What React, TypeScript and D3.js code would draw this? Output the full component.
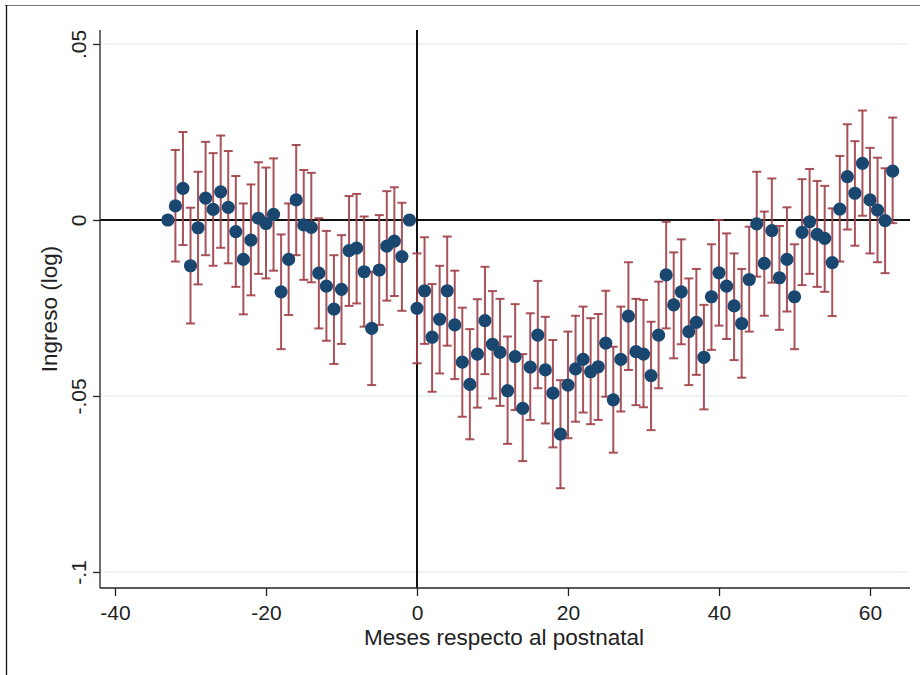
import React, { useRef, useEffect } from 'react';
import * as d3 from 'd3';

// months relative to birth
const months = [
  -33, -32, -31, -30, -29, -28, -27, -26, -25, -24, -23, -22, -21, -20, -19, -18, -17,
  -16, -15, -14, -13, -12, -11, -10, -9, -8, -7, -6, -5, -4, -3, -2, -1,
  0, 1, 2, 3, 4, 5, 6, 7, 8, 9, 10, 11, 12, 13, 14, 15, 16,
  17, 18, 19, 20, 21, 22, 23, 24, 25, 26, 27, 28, 29, 30, 31, 32,
  33, 34, 35, 36, 37, 38, 39, 40, 41, 42, 43, 44, 45, 46, 47, 48,
  49, 50, 51, 52, 53, 54, 55, 56, 57, 58, 59, 60, 61, 62, 63,
];

const coef = [
  0, 0.004, 0.009, -0.013, -0.0022, 0.0062, 0.003, 0.008, 0.0036, -0.0033, -0.0112, -0.0057, 0.0005, -0.001, 0.0016, -0.0204, -0.0112,
  0.0057, -0.0014, -0.0021, -0.0151, -0.0188, -0.0253, -0.0197, -0.0087, -0.008, -0.0147, -0.0308, -0.0142, -0.0074, -0.006, -0.0104, 0,
  -0.0251, -0.0201, -0.0333, -0.0282, -0.0201, -0.0298, -0.0404, -0.0467, -0.0381, -0.0286, -0.0353, -0.0376, -0.0485, -0.0388, -0.0535, -0.0418, -0.0327,
  -0.0426, -0.0492, -0.0608, -0.0469, -0.0423, -0.0396, -0.0431, -0.0417, -0.035, -0.0511, -0.0396, -0.0273, -0.0374, -0.0381, -0.0442, -0.0327,
  -0.0156, -0.0241, -0.0204, -0.0317, -0.0291, -0.039, -0.0218, -0.015, -0.0188, -0.0244, -0.0294, -0.0169, -0.0011, -0.0123, -0.003, -0.0164,
  -0.0112, -0.0218, -0.0035, -0.0005, -0.0041, -0.0052, -0.0121, 0.0031, 0.0123, 0.0076, 0.0161, 0.0057, 0.0028, -0.0002, 0.0139,
];

const ciHigh = [
  0, 0.0199, 0.025, 0.0035, 0.0137, 0.0222, 0.019, 0.024, 0.0196, 0.0125, 0.0047, 0.0101, 0.0164, 0.0149, 0.0175, -0.0041, 0.0047,
  0.0213, 0.0142, 0.0134, 0.0005, -0.0031, -0.01, -0.0043, 0.0068, 0.0074, 0.001, -0.0147, 0.0014, 0.0082, 0.0093, 0.0049, 0,
  -0.0095, -0.0049, -0.0182, -0.013, -0.0047, -0.0144, -0.0249, -0.031, -0.0225, -0.0133, -0.0202, -0.0224, -0.0331, -0.0239, -0.0381, -0.0265, -0.0173,
  -0.0275, -0.0341, -0.0455, -0.0317, -0.0272, -0.0246, -0.0279, -0.0267, -0.0201, -0.036, -0.0246, -0.012, -0.0224, -0.0227, -0.0289, -0.0175,
  -0.0005, -0.0092, -0.0055, -0.0166, -0.0139, -0.0241, -0.0069, 0, -0.0038, -0.0095, -0.0139, -0.0019, 0.0137, 0.0024, 0.0118, -0.0017,
  0.0036, -0.0069, 0.0116, 0.0145, 0.0111, 0.0097, 0.0033, 0.0182, 0.0272, 0.0224, 0.0311, 0.0205, 0.0177, 0.0147, 0.0291,
];

const ciLow = [
  0, -0.0118, -0.0071, -0.0294, -0.0183, -0.01, -0.013, -0.0079, -0.0123, -0.019, -0.0268, -0.0214, -0.0153, -0.0166, -0.0144, -0.0367, -0.027,
  -0.01, -0.017, -0.0177, -0.0308, -0.0343, -0.0409, -0.0352, -0.0244, -0.0237, -0.0303, -0.0469, -0.0298, -0.0229, -0.0216, -0.0258, 0,
  -0.0407, -0.0352, -0.0488, -0.0436, -0.0357, -0.0452, -0.0559, -0.0623, -0.0533, -0.0438, -0.0507, -0.0528, -0.0636, -0.054, -0.0685, -0.0568, -0.0478,
  -0.0578, -0.0646, -0.0762, -0.062, -0.0573, -0.0547, -0.058, -0.0568, -0.0502, -0.0661, -0.0544, -0.0426, -0.0526, -0.0532, -0.0597, -0.0478,
  -0.0308, -0.0393, -0.0353, -0.0469, -0.044, -0.0538, -0.0369, -0.03, -0.0338, -0.0398, -0.0448, -0.0317, -0.0161, -0.0272, -0.0178, -0.0312,
  -0.026, -0.0367, -0.0185, -0.0153, -0.019, -0.0204, -0.0273, -0.0118, -0.0027, -0.0073, 0.0012, -0.0095, -0.012, -0.0151, -0.0009,
];

const xTicks = [-40, -20, 0, 20, 40, 60];
const yTicks = [-0.1, -0.05, 0, 0.05];
const yTickLabels = ['-.1', '-.05', '0', '.05'];

const EventStudy = () => {
  const svgRef = useRef(null);

  useEffect(() => {
    const width = 920;
    const height = 675;
    const font = '"Liberation Sans", Arial, sans-serif';
    const barColor = '#a03f48';
    const dotColor = '#1a476f';

    const svg = d3.select(svgRef.current);
    svg.selectAll('*').remove();
    svg.attr('width', width).attr('height', height);

    // plot area in page pixels
    const left = 100, right = 910, top = 30, bottom = 588;

    const x = d3.scaleLinear().domain([-40, 60]).range([115, 870]);
    const y = d3.scaleLinear().domain([-0.1, 0.05]).range([572, 44]);

    // outer frame remnants
    svg.append('line')
      .attr('x1', 5).attr('x2', width).attr('y1', 5.5).attr('y2', 5.5)
      .attr('stroke', '#777').attr('stroke-width', 1.2);
    svg.append('line')
      .attr('x1', 6.5).attr('x2', 6.5).attr('y1', 5).attr('y2', height)
      .attr('stroke', '#111').attr('stroke-width', 1.3);

    // gridlines
    svg.append('g')
      .selectAll('line')
      .data(yTicks.filter(d => d !== 0))
      .enter()
      .append('line')
      .attr('x1', left).attr('x2', right - 2)
      .attr('y1', d => y(d)).attr('y2', d => y(d))
      .attr('stroke', '#e6eff2').attr('stroke-width', 1.5);

    // reference lines
    svg.append('line')
      .attr('x1', left).attr('x2', right)
      .attr('y1', y(0)).attr('y2', y(0))
      .attr('stroke', '#111').attr('stroke-width', 2);
    svg.append('line')
      .attr('x1', x(0)).attr('x2', x(0))
      .attr('y1', top).attr('y2', bottom)
      .attr('stroke', '#111').attr('stroke-width', 2);

    // y axis
    const yAxis = d3.axisLeft(y)
      .tickValues(yTicks)
      .tickFormat((d, i) => yTickLabels[i])
      .tickSize(7)
      .tickSizeOuter(0);
    const gy = svg.append('g').attr('transform', `translate(${left},0)`).call(yAxis);
    gy.select('.domain').attr('d', `M0,${top}V${bottom}`).attr('stroke', '#222').attr('stroke-width', 1.3);
    gy.selectAll('.tick line').attr('stroke', '#222').attr('stroke-width', 1.3);
    gy.selectAll('.tick text')
      .attr('x', null).attr('dy', null)
      .attr('transform', 'translate(-14,0) rotate(-90)')
      .attr('text-anchor', 'middle')
      .attr('fill', '#222')
      .style('font-family', font)
      .style('font-size', '21px');

    // x axis
    const xAxis = d3.axisBottom(x)
      .tickValues(xTicks)
      .tickFormat(d => String(d))
      .tickSize(8)
      .tickSizeOuter(0);
    const gx = svg.append('g').attr('transform', `translate(0,${bottom})`).call(xAxis);
    gx.select('.domain').attr('d', `M${left},0H${right}`).attr('stroke', '#222').attr('stroke-width', 1.3);
    gx.selectAll('.tick line').attr('stroke', '#222').attr('stroke-width', 1.3);
    gx.selectAll('.tick text')
      .attr('y', 32).attr('dy', null)
      .attr('fill', '#222')
      .style('font-family', font)
      .style('font-size', '21px');

    // axis titles
    svg.append('text')
      .attr('x', 504)
      .attr('y', 645)
      .attr('text-anchor', 'middle')
      .attr('fill', '#222')
      .style('font-family', font)
      .style('font-size', '22.5px')
      .text('Meses respecto al postnatal');

    svg.append('text')
      .attr('transform', `translate(57,${(top + bottom) / 2}) rotate(-90)`)
      .attr('text-anchor', 'middle')
      .attr('fill', '#222')
      .style('font-family', font)
      .style('font-size', '22.5px')
      .text('Ingreso (log)');

    const rows = months.map((m, i) => ({ m, b: coef[i], lo: ciLow[i], hi: ciHigh[i] }));

    // confidence intervals
    const bars = svg.append('g')
      .attr('stroke', barColor)
      .attr('stroke-width', 2)
      .attr('stroke-opacity', 0.9);
    bars.selectAll('.ci')
      .data(rows)
      .enter()
      .append('line')
      .attr('class', 'ci')
      .attr('x1', d => x(d.m)).attr('x2', d => x(d.m))
      .attr('y1', d => y(d.hi)).attr('y2', d => y(d.lo));
    bars.selectAll('.cap-hi')
      .data(rows)
      .enter()
      .append('line')
      .attr('class', 'cap-hi')
      .attr('x1', d => x(d.m) - 4.5).attr('x2', d => x(d.m) + 4.5)
      .attr('y1', d => y(d.hi)).attr('y2', d => y(d.hi));
    bars.selectAll('.cap-lo')
      .data(rows)
      .enter()
      .append('line')
      .attr('class', 'cap-lo')
      .attr('x1', d => x(d.m) - 4.5).attr('x2', d => x(d.m) + 4.5)
      .attr('y1', d => y(d.lo)).attr('y2', d => y(d.lo));

    // point estimates
    svg.append('g')
      .selectAll('circle')
      .data(rows)
      .enter()
      .append('circle')
      .attr('cx', d => x(d.m))
      .attr('cy', d => y(d.b))
      .attr('r', 6.6)
      .attr('fill', dotColor);
  }, []);

  return <svg ref={svgRef} style={{ position: 'absolute', left: 0, top: 0, background: '#fff' }}></svg>;
};

export default function App() {
  return (
    <div>
      <EventStudy />
    </div>
  );
}
